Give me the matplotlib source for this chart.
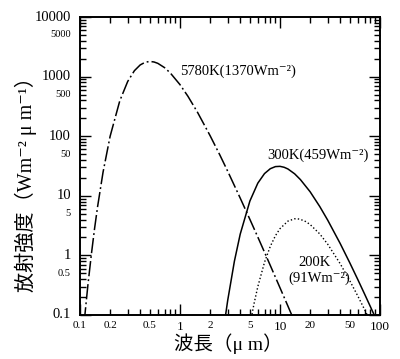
import matplotlib
matplotlib.use("Agg")
import matplotlib.pyplot as plt
from matplotlib.ticker import FixedLocator, NullFormatter

# ---- data ----
sun_wl = [0.11, 0.12, 0.13, 0.14, 0.15, 0.17, 0.2, 0.25, 0.3, 0.35, 0.4, 0.45, 0.5,
          0.55, 0.6, 0.7, 0.8, 1.0, 1.2, 1.5, 2, 2.5, 3, 4, 5, 6, 7, 8, 10, 12, 13, 14]
sun_val = [0.075, 0.32, 1.05, 2.86, 6.6, 24.9, 99.5, 393, 830, 1257, 1571, 1746, 1796,
           1760, 1670, 1416, 1151, 733, 468, 250, 102, 48.6, 25.8, 9.16, 4.02, 2.03,
           1.13, 0.677, 0.286, 0.141, 0.103, 0.077]

t300_wl = [2.8, 3, 3.5, 4, 5, 6, 7, 8, 9, 10, 11, 12, 14, 16, 20, 25, 30, 40, 50, 60,
           70, 80, 90]
t300_val = [0.079, 0.176, 0.80, 2.27, 8.18, 16.3, 23.6, 28.5, 30.9, 31.2, 30.1, 28.2,
            23.4, 18.7, 11.7, 6.59, 3.90, 1.58, 0.744, 0.393, 0.226, 0.139, 0.090]

t200_wl = [5, 5.5, 6, 7, 8, 9, 10, 12, 14, 15, 16, 18, 20, 25, 30, 40, 50, 60, 70, 80]
t200_val = [0.068, 0.155, 0.299, 0.766, 1.42, 2.14, 2.81, 3.76, 4.11, 4.11, 4.02, 3.71,
            3.30, 2.29, 1.54, 0.725, 0.372, 0.208, 0.124, 0.078]

x_ticks = [0.1, 0.2, 0.5, 1, 2, 5, 10, 20, 50, 100]
x_ticklabels = ["0.1", "0.2", "0.5", "1", "2", "5", "10", "20", "50", "100"]
y_ticks = [0.1, 0.5, 1, 5, 10, 50, 100, 500, 1000, 5000, 10000]
y_ticklabels = ["0.1", "0.5", "1", "5", "10", "50", "100", "500", "1000", "5000", "10000"]

label_sun = "5780K(1370Wm⁻²)"
label_300 = "300K(459Wm⁻²)"
label_200a = "200K"
label_200b = "(91Wm⁻²)"
xlabel = "波長（μ m）"
ylabel = "放射強度（Wm⁻² μ m⁻¹）"

SERIF = ["Liberation Serif", "Noto Sans CJK JP", "DejaVu Serif"]
plt.rcParams["font.family"] = SERIF

fig = plt.figure(figsize=(4.0, 3.59), dpi=100)
ax = fig.add_axes([0.2, 0.1226, 0.75, 0.83])

ax.plot(sun_wl, sun_val, color="black", lw=1.1, dashes=(10, 2, 1.2, 2))
ax.plot(t300_wl, t300_val, color="black", lw=1.1)
ax.plot(t200_wl, t200_val, color="black", lw=1.0, dashes=(1, 1.6))

ax.set_xscale("log")
ax.set_yscale("log")
ax.set_xlim(0.1, 100)
ax.set_ylim(0.1, 10000)

# major (decade) ticks
ax.xaxis.set_major_locator(FixedLocator([0.1, 1, 10, 100]))
ax.yaxis.set_major_locator(FixedLocator([0.1, 1, 10, 100, 1000, 10000]))
ax.xaxis.set_major_formatter(NullFormatter())
ax.yaxis.set_major_formatter(NullFormatter())
xminor = [m * d for d in (0.1, 1, 10) for m in range(2, 10)]
yminor = [m * d for d in (0.1, 1, 10, 100, 1000) for m in range(2, 10)]
ax.xaxis.set_minor_locator(FixedLocator(xminor))
ax.yaxis.set_minor_locator(FixedLocator(yminor))
ax.xaxis.set_minor_formatter(NullFormatter())
ax.yaxis.set_minor_formatter(NullFormatter())
ax.tick_params(which="both", direction="in", top=True, right=True, width=1.0,
               color="black")
ax.tick_params(which="major", length=8)
ax.tick_params(which="minor", length=4)

for s in ax.spines.values():
    s.set_linewidth(1.4)

# tick labels as text (decades larger)
big = {"1", "10", "100", "1000", "10000"}
for v, lab in zip(x_ticks, x_ticklabels):
    fs = 9.5 if lab in big else 8
    ax.text(v, -0.02, lab, transform=ax.get_xaxis_transform(), ha="center", va="top",
            fontsize=fs)
for v, lab in zip(y_ticks, y_ticklabels):
    fs = 10.5 if (lab in big or lab == "0.1") else 7.5
    ax.text(-0.03, v, lab, transform=ax.get_yaxis_transform(), ha="right", va="center",
            fontsize=fs)

ax.text(1.0, 1250, label_sun, fontsize=10.5, ha="left", va="center")
ax.text(7.4, 48, label_300, fontsize=10.5, ha="left", va="center")
ax.text(21.9, 0.76, label_200a, fontsize=10.5, ha="center", va="center")
ax.text(24.5, 0.42, label_200b, fontsize=10.5, ha="center", va="center")

fig.text(0.572, 0.044, xlabel, fontsize=14, ha="center", va="center")
fig.text(0.064, 0.50, ylabel, fontsize=14.5, ha="center", va="center", rotation=90)

fig.savefig("out.png", dpi=100)
